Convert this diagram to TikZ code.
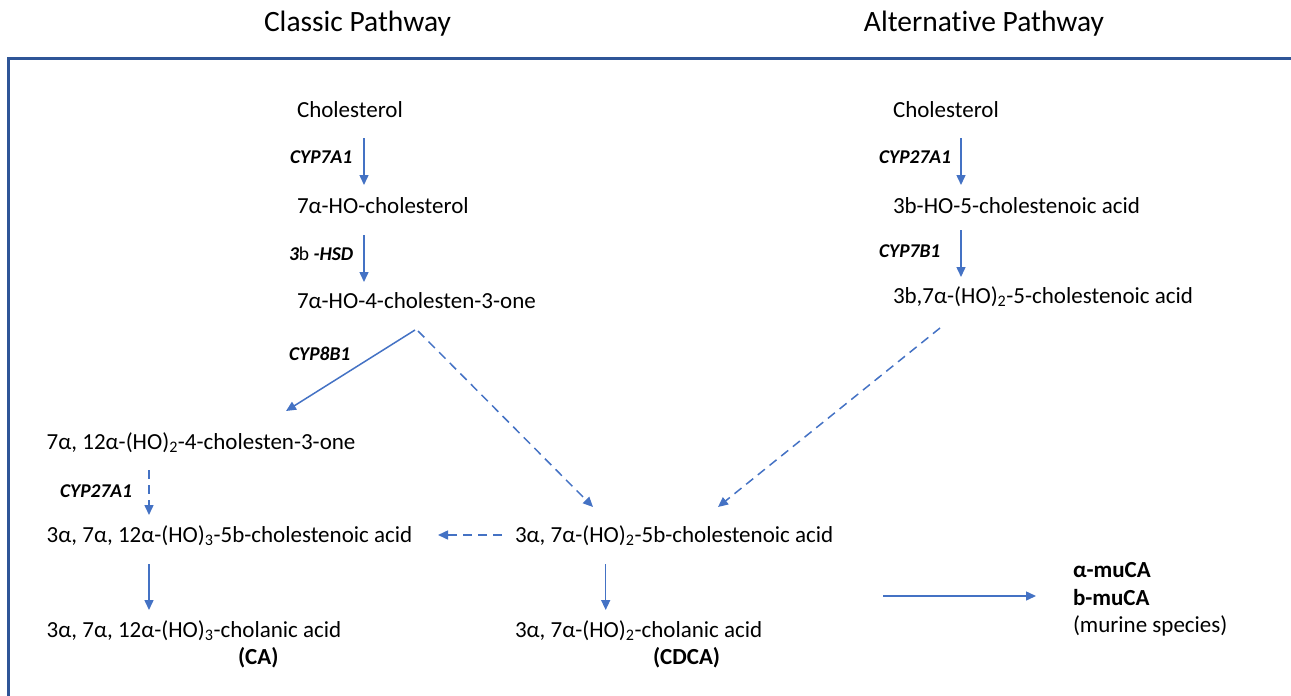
\documentclass[tikz,border=0pt]{standalone}
\usepackage{fontspec}
\setmainfont{Carlito}[Ligatures=CommonOff]
\usetikzlibrary{arrows.meta,calc}
\definecolor{arrowblue}{HTML}{4472C4}
\definecolor{frameblue}{HTML}{2F5597}
\begin{document}
\begin{tikzpicture}[x=1pt,y=-1pt,
  every node/.style={inner sep=0pt,outer sep=0pt,anchor=base west},
  txt/.style={font=\fontsize{23}{27}\selectfont},
  btxt/.style={font=\fontsize{23}{27}\selectfont\bfseries},
  enz/.style={font=\fontsize{19.5}{23}\selectfont\bfseries\itshape},
  ttl/.style={font=\fontsize{29.5}{34}\selectfont, anchor=base},
  arr/.style={draw=arrowblue,line width=1.5pt,-{Triangle[length=10pt,width=9pt]}},
  darr/.style={arr,dash pattern=on 9pt off 6pt},
  frm/.style={draw=frameblue,line width=3pt}]
\useasboundingbox (0,0) rectangle (1291,696);
\draw[frm] (8.5,700) -- (8.5,58.5) -- (1295,58.5);

\node[ttl] (t1) at (357.5,31) {Classic Pathway};
\node[ttl] (t2) at (984,31) {Alternative Pathway};

\node[txt] (c1) at (297,117) {Cholesterol};
\node[enz] (e1) at (290,163) {CYP7A1};
\node[txt] (hoc) at (297,213) {7α-HO-cholesterol};
\node[enz] (e2) at (289,260) {3{\upshape\mdseries b} -HSD};
\node[txt] (hoch) at (297,308) {7α-HO-4-cholesten-3-one};
\node[enz] (e3) at (289,360) {CYP8B1};
\node[txt] (d12) at (46.7,449) {7α, 12α-(HO)\textsubscript{2}-4-cholesten-3-one};
\node[enz] (e4) at (60,497) {CYP27A1};
\node[txt] (t3a) at (46.7,542) {3α, 7α, 12α-(HO)\textsubscript{3}-5b-cholestenoic acid};
\node[txt] (ca) at (46.7,637) {3α, 7α, 12α-(HO)\textsubscript{3}-cholanic acid};
\node[btxt] (cal) at (238,664) {(CA)};
\node[txt] (d7a) at (515,542) {3α, 7α-(HO)\textsubscript{2}-5b-cholestenoic acid};
\node[txt] (cdca) at (515,637) {3α, 7α-(HO)\textsubscript{2}-cholanic acid};
\node[btxt] (cdcal) at (653,664) {(CDCA)};
\node[btxt] (amu) at (1073,577) {α-muCA};
\node[btxt] (bmu) at (1073,605) {b-muCA};
\node[txt] (mur) at (1073,632) {(murine species)};

\node[txt] (c2) at (893,117) {Cholesterol};
\node[enz] (e5) at (879,163) {CYP27A1};
\node[txt] (ho5) at (893,213) {3b-HO-5-cholestenoic acid};
\node[enz] (e6) at (879,257) {CYP7B1};
\node[txt] (ho57) at (893,303) {3b,7α-(HO)\textsubscript{2}-5-cholestenoic acid};

\draw[arr] ([shift={(67,21)}]c1.base west) -- ([shift={(67,-28)}]hoc.base west);
\draw[arr] ([shift={(67,22)}]hoc.base west) -- ([shift={(67,-26)}]hoch.base west);
\draw[arr] ([shift={(118,22)}]hoch.base west) -- ([shift={(239.3,-38)}]d12.base west);
\draw[darr] ([shift={(121,23)}]hoch.base west) -- ([shift={(78,-35)}]d7a.base west);
\draw[darr] ([shift={(47,25)}]ho57.base west) -- ([shift={(203,-35)}]d7a.base west);
\draw[arr] ([shift={(68,21)}]c2.base west) -- ([shift={(68,-28)}]ho5.base west);
\draw[arr] ([shift={(68,17)}]ho5.base west) -- ([shift={(68,-26)}]ho57.base west);
\draw[darr] ([shift={(102.3,21)}]d12.base west) -- ([shift={(102.3,-27)}]t3a.base west);
\draw[darr] ([shift={(-13,-7)}]d7a.base west) -- ([shift={(391.3,-7)}]t3a.base west);
\draw[arr] ([shift={(102.3,22)}]t3a.base west) -- ([shift={(102.3,-27)}]ca.base west);
\draw[arr] ([shift={(90.7,22)}]d7a.base west) -- ([shift={(90.7,-27)}]cdca.base west);
\draw[arr] ([shift={(-190,-9)}]bmu.base west) -- ([shift={(-37,-9)}]bmu.base west);
\end{tikzpicture}
\end{document}
